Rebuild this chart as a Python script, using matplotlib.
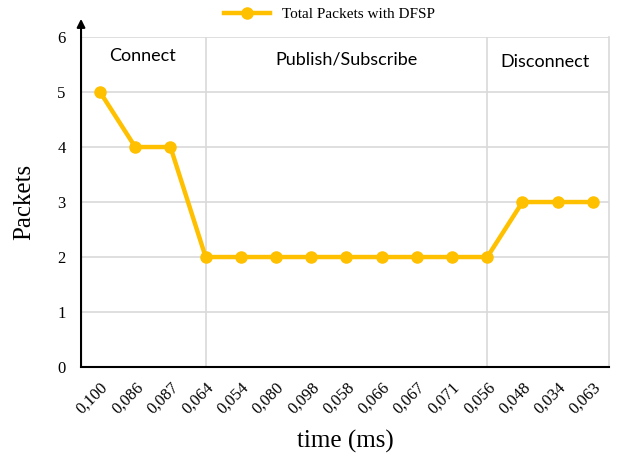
import matplotlib.pyplot as plt

# data
time_labels = ['0,100', '0,086', '0,087', '0,064', '0,054', '0,080', '0,098', '0,058',
               '0,066', '0,067', '0,071', '0,056', '0,048', '0,034', '0,063']
packets = [5, 4, 4, 2, 2, 2, 2, 2, 2, 2, 2, 2, 3, 3, 3]
phase_names = ['Connect', 'Publish/Subscribe', 'Disconnect']
phase_bounds = [3, 11]

serif = ['Liberation Serif', 'DejaVu Serif']
sans = ['Lato', 'DejaVu Sans']

fig = plt.figure(figsize=(6.19, 4.63), dpi=100)
ax = fig.add_axes([0.1309, 0.2073, 0.984 - 0.1309, 0.920 - 0.2073])

x = list(range(len(packets)))
line, = ax.plot(x, packets, color='#FFC000', linewidth=3.2, marker='o',
                markersize=8, label='Total Packets with DFSP', zorder=3)

ax.set_xlim(-0.54, 14.46)
ax.set_ylim(0, 6)
ax.set_yticks(range(0, 7))
ax.set_yticklabels([str(v) for v in range(0, 7)], fontfamily=serif, fontsize=12)
ax.set_xticks(x)
ax.set_xticklabels(time_labels, rotation=45, ha='right', rotation_mode='anchor',
                   fontfamily=serif, fontsize=12)
ax.tick_params(axis='y', length=0, pad=11)
ax.tick_params(axis='x', length=0, pad=9)

ax.grid(axis='y', color='#d9d9d9', linewidth=1.2)
for b in phase_bounds:
    ax.axvline(b, color='#d9d9d9', linewidth=1.2, zorder=1)

for s in ['top', 'left']:
    ax.spines[s].set_visible(False)
ax.spines['right'].set_color('#d9d9d9')
ax.spines['right'].set_linewidth(1.2)
ax.spines['bottom'].set_color('black')
ax.spines['bottom'].set_linewidth(1.5)

# y axis arrow
ax.annotate('', xy=(0, 1.055), xytext=(0, 0), xycoords='axes fraction',
            textcoords='axes fraction',
            arrowprops=dict(arrowstyle='-|>', color='black', lw=1.5,
                            mutation_scale=12, shrinkA=0, shrinkB=0),
            annotation_clip=False)

# phase labels
phase_x = [1.2, 7.0, 12.65]
phase_y = [5.65, 5.6, 5.55]
for name, px, py in zip(phase_names, phase_x, phase_y):
    ax.text(px, py, name, ha='center', va='center', fontfamily=sans, fontsize=13)

ax.set_ylabel('Packets', fontfamily=serif, fontsize=18, labelpad=16)
ax.set_xlabel('time (ms)', fontfamily=serif, fontsize=18, labelpad=9)

ax.legend(handles=[line], loc='lower center', bbox_to_anchor=(0.47, 1.03),
          frameon=False, prop={'family': serif, 'size': 11}, handlelength=3,
          borderaxespad=0)

fig.savefig('out.png', dpi=100)
